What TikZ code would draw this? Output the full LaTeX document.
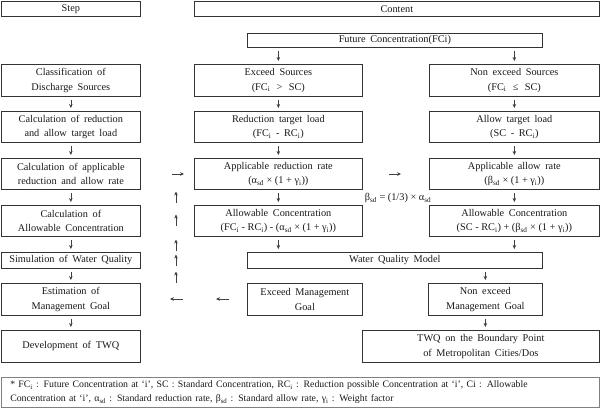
\documentclass[tikz,border=0pt]{standalone}
\usepackage{fontspec}
\setmainfont{Liberation Serif}[WordSpace=1.8]
\newfontfamily\fnfont{Liberation Serif}
\usetikzlibrary{arrows.meta}
\newcommand\sub[1]{\textsubscript{#1}}
\newcommand\bx[6]{\node[box, anchor=north west, minimum width={#4pt-#2pt}, minimum height={#5pt-#3pt}] (#1) at (#2,#3) {#6};}
\begin{document}
\begin{tikzpicture}[x=1pt,y=-1pt,
  box/.style={draw=black!80, line width=0.7pt, inner sep=0pt, align=center, text=black!90,
    font=\fontsize{10.3}{14.5}\selectfont},
  arr/.style={-{Stealth[length=4pt,width=3.6pt]}, line width=0.55pt, draw=black!75, shorten >=3pt, shorten <=3.5pt},
  farr/.style={-{Stealth[length=4pt,width=3.6pt]}, line width=0.55pt, draw=black!75}]
\useasboundingbox (0,0) rectangle (600,409);
% header
\bx{step}{1}{1}{140}{16}{Step}
\bx{content}{194}{1}{599}{16}{Content}
\bx{fc}{247}{33}{542}{47}{Future Concentration(FCi)}
% row 1
\bx{cls}{1}{64}{140}{96}{Classification of\\Discharge Sources}
\bx{exs}{194}{64}{362}{96}{Exceed Sources\\(FC\sub{i} \,>\, SC)}
\bx{nexs}{429}{64}{599}{96}{Non exceed Sources\\(FC\sub{i} \,≤\, SC)}
% row 2
\bx{calcred}{1}{111}{140}{142}{Calculation of reduction\\and allow target load}
\bx{redt}{194}{111}{362}{142}{Reduction target load\\(FC\sub{i} - RC\sub{i})}
\bx{allt}{429}{111}{599}{142}{Allow target load\\(SC - RC\sub{i})}
% row 3
\bx{calcapp}{1}{158}{140}{189}{Calculation of applicable\\reduction and allow rate}
\bx{appred}{194}{158}{362}{189}{Applicable reduction rate\\{\fnfont(α\sub{sd} × (1 + γ\sub{i}))}}
\bx{appall}{429}{158}{599}{189}{Applicable allow rate\\{\fnfont(β\sub{sd} × (1 + γ\sub{i}))}}
% row 4
\bx{calcallow}{1}{205}{140}{236}{Calculation of\\Allowable Concentration}
\bx{allowe}{194}{205}{362}{236}{Allowable Concentration\\{\fnfont(FC\sub{i} - RC\sub{i}) - (α\sub{sd} × (1 + γ\sub{i}))}}
\bx{allown}{429}{205}{599}{236}{Allowable Concentration\\{\fnfont(SC - RC\sub{i}) + (β\sub{sd} × (1 + γ\sub{i}))}}
% row 5
\bx{sim}{1}{252}{140}{268}{Simulation of Water Quality}
\bx{wqm}{247}{252}{542}{268}{Water Quality Model}
% row 6
\bx{est}{1}{283}{140}{315}{Estimation of\\Management Goal}
\bx{emg}{247}{283}{362}{315}{Exceed Management\\Goal}
\bx{nemg}{428}{283}{542}{315}{Non exceed\\Management Goal}
% row 7
\bx{dev}{1}{330}{140}{362}{Development of TWQ}
\bx{twq}{362}{330}{599}{362}{TWQ on the Boundary Point\\of Metropolitan Cities/Dos}
% footnote
\node[draw=black!50, line width=0.6pt, anchor=north west, minimum width=598pt, minimum height=30pt, inner sep=0pt] (fn) at (1,377) {};
\node[text width=580pt, inner sep=0pt, font=\fnfont\fontsize{9.8}{14}\selectfont, text=black!90] (fntext) at (fn.center)
 {* FC\sub{i} : Future Concentration at ‘i’, SC : Standard Concentration, RC\sub{i} : Reduction possible Concentration at ‘i’, Ci : Allowable\linebreak
 Concentration at ‘i’, α\sub{sd} : Standard reduction rate, β\sub{sd} : Standard allow rate, γ\sub{i} : Weight factor};
% beta label
\node[font=\fnfont\fontsize{10.3}{12}\selectfont, text=black!90, inner sep=0pt] (beta) at (398,198) {β\sub{sd} = (1/3) × α\sub{sd}};
% left column arrows
\draw[arr] (cls) -- (calcred);
\draw[arr] (calcred) -- (calcapp);
\draw[arr] (calcapp) -- (calcallow);
\draw[arr] (calcallow) -- (sim);
\draw[arr] (sim) -- (est);
\draw[arr] (est) -- (dev);
% exceed column
\draw[arr] (exs.north |- fc.south) -- (exs.north);
\draw[arr] (exs) -- (redt);
\draw[arr] (redt) -- (appred);
\draw[arr] (appred) -- (allowe);
\draw[arr] (allowe.south) -- (allowe.south |- wqm.north);
% non exceed column
\draw[arr] (nexs.north |- fc.south) -- (nexs.north);
\draw[arr] (nexs) -- (allt);
\draw[arr] (allt) -- (appall);
\draw[arr] (appall) -- (allown);
\draw[arr] (allown.south) -- (allown.south |- wqm.north);
% model
\draw[arr] (nemg.north |- wqm.south) -- (nemg.north);
\draw[arr] (nemg.south) -- (nemg.south |- twq.north);
% free standing arrows
\coordinate (r1a) at (172,174); \coordinate (r1b) at (184,174);
\coordinate (r2a) at (389,174); \coordinate (r2b) at (401,174);
\draw[farr] (r1a) -- (r1b);
\draw[farr] (r2a) -- (r2b);
\foreach \yy [count=\k] in {197,220,245,260,277} {
  \coordinate (u\k a) at (176,\yy+5.5); \coordinate (u\k b) at (176,\yy-5.5);
  \draw[farr] (u\k a) -- (u\k b);
}
\coordinate (l1a) at (183,299); \coordinate (l1b) at (170,299);
\coordinate (l2a) at (229,299); \coordinate (l2b) at (216,299);
\draw[farr] (l1a) -- (l1b);
\draw[farr] (l2a) -- (l2b);
\end{tikzpicture}
\end{document}
